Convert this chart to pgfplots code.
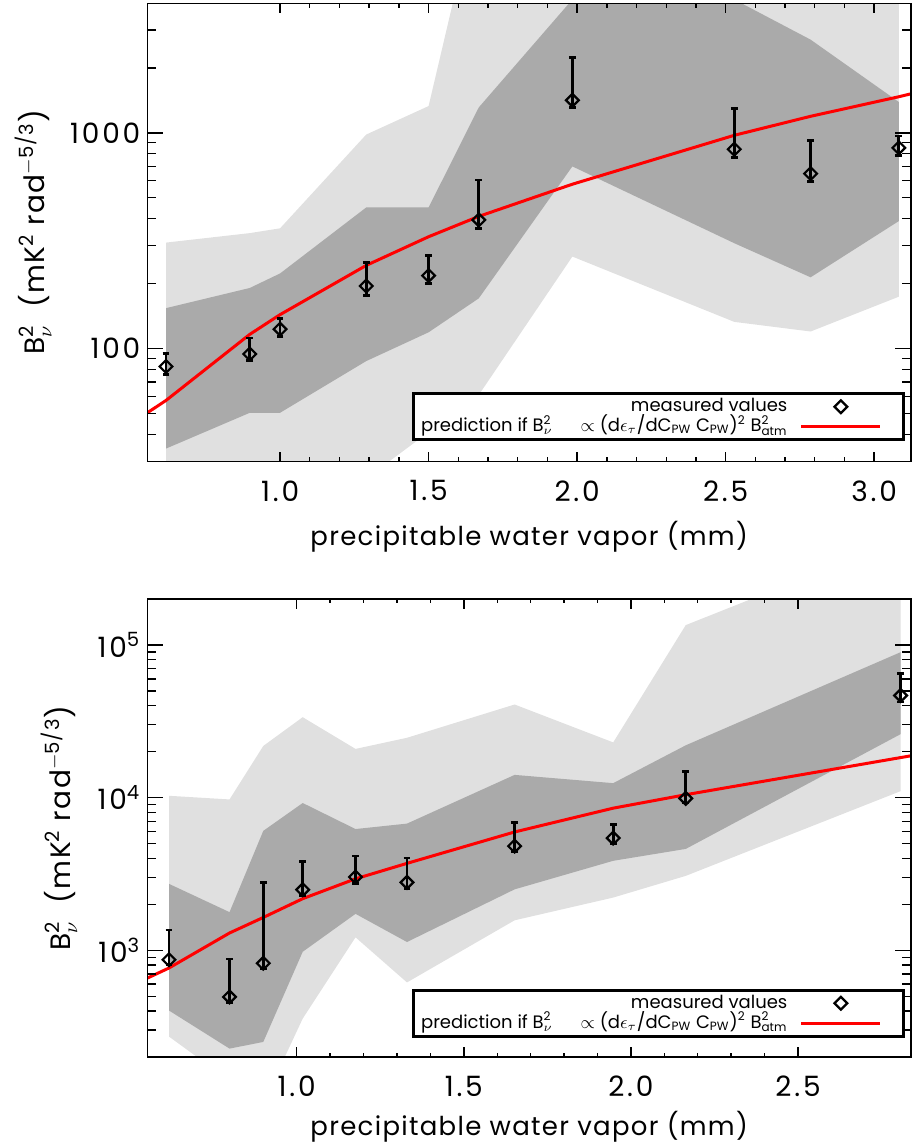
\documentclass[border=0pt]{standalone}
\usepackage{fontspec}
\setmainfont{Poppins}
\newfontfamily\tickfont[LetterSpace=10]{Poppins}
\newfontfamily\labfont[LetterSpace=5]{Poppins}
\usepackage{amsmath}
\usepackage{pgfplots}
\pgfplotsset{compat=1.18}
\usepackage{pgfplotstable}

\definecolor{lightband}{RGB}{224,224,224}
\definecolor{darkband}{RGB}{170,170,170}
\newcommand{\ssub}[2]{\ensuremath{^{\text{#1}}_{\text{#2}}}}

% ---------- top panel ----------
\pgfplotstableread{
x      y     yhi   ylo
0.616  82.6  95.2  75.7
0.898  94.4  112   88
1.000  123   138   114
1.290  195   250   177
1.500  218   270   201
1.669  395   604   359
1.984  1416  2237  1312
2.529  839   1300  769
2.786  647   923   593
3.083  852   966   784
}\topmeas
% outer (light) band: upper edge, then lower edge backwards
\pgfplotstableread{
x      y
0.616  310
0.898  343
1.000  361
1.290  982
1.500  1331
1.669  13000
1.984  20000
2.529  20000
2.786  20000
3.083  20000
3.083  174
2.786  120
2.529  133
1.984  267
1.669  61
1.500  41
1.290  25
1.000  13
0.898  13
0.616  15
}\toplight
% inner (dark) band
\pgfplotstableread{
x      y
0.616  154
0.898  191
1.000  223
1.290  451
1.500  451
1.669  1312
1.984  4150
2.529  4150
2.786  2704
3.083  1390
3.083  390
2.786  214
2.529  308
1.984  699
1.669  171
1.500  119
1.290  87.5
1.000  50.4
0.898  50.4
0.616  34.4
}\topdark
\pgfplotstableread{
x      y
0.553  50.4
0.616  57.5
0.898  116.4
1.000  143.7
1.290  243
1.500  330
1.669  410
1.984  578
2.529  974
2.786  1193
3.083  1470
3.124  1517
}\topmodel

% ---------- bottom panel ----------
\pgfplotstableread{
x      y      yhi    ylo
0.618  867    1358   809
0.799  495    878    457
0.900  822    2786   754
1.018  2495   3795   2275
1.176  3020   4140   2754
1.330  2786   4027   2537
1.652  4817   6837   4446
1.947  5433   6683   5011
2.164  9886   14870  9228
2.807  46670  64700  42300
}\botmeas
\pgfplotstableread{
x      y
0.618  10280
0.799  9730
0.900  21800
1.018  33650
1.176  20850
1.330  24660
1.652  40740
1.947  23000
2.164  134900
2.807  490000
2.807  11030
2.164  3072
1.947  2215
1.652  1572
1.330  616
1.176  1216
1.018  357
0.900  100
0.799  140
0.618  272
}\botlight
\pgfplotstableread{
x      y
0.618  2723
0.799  1778
0.900  6057
1.018  9220
1.176  6226
1.330  6758
1.652  14090
1.947  12440
2.164  22010
2.807  89700
2.807  26060
2.164  4613
1.947  3857
1.652  2507
1.330  1133
1.176  1733
1.018  978
0.900  251
0.799  227
0.618  403
}\botdark
\pgfplotstableread{
x      y
0.553  657
0.618  766
0.799  1298
0.900  1641
1.018  2178
1.176  2939
1.330  3711
1.652  5957
1.947  8531
2.164  10450
2.807  18300
2.838  18800
}\botmodel

\pgfplotsset{
  mypanel/.style={
    scale only axis, width=381.85pt, height=229pt,
    xmin=0.553,
    axis on top,
    axis line style={line width=0.7pt, black},
    tick style={line width=0.7pt, black},
    major tick length=6pt, minor tick length=3pt,
    xtick style={/pgfplots/major tick length=4.8pt, /pgfplots/minor tick length=2.2pt},
    ytick style={/pgfplots/major tick length=8pt, /pgfplots/minor tick length=4.3pt},
    minor x tick num=4,
    tick label style={font=\fontsize{14}{16}\tickfont},
    xticklabel style={yshift=-6pt},
    xlabel style={font=\fontsize{13}{15}\labfont},
    ylabel style={font=\fontsize{14}{16}\labfont},
    legend style={font=\fontsize{9}{11}\selectfont, draw=black, line width=1.5pt,
      fill=white, anchor=south east, inner xsep=3pt, inner ysep=1.5pt, row sep=0pt,
      nodes={inner sep=1pt, text height=6.5pt, text depth=1.5pt}},
    legend cell align=right, legend plot pos=right,
  },
  mydiamleg/.style={legend image code/.code={\path[draw=none] (-6pt,0pt) -- (48pt,0pt);
    \draw[##1] plot coordinates {(19.75pt,0pt)};}},
  mylineleg/.style={legend image code/.code={\path[draw=none] (-6pt,0pt) -- (48pt,0pt);
    \draw[##1] (0pt,0pt) -- (39.5pt,0pt);}},
}

\begin{document}
\begin{tikzpicture}
\path[use as bounding box] (0,0) rectangle (456pt,-573pt);

\begin{axis}[mypanel, ymode=log,
  at={(73.65pt,-230.7pt)}, anchor=south west,
  xmax=3.124, ymin=30, ymax=3981,
  xtick={1,1.5,2,2.5,3}, xticklabels={1.0,1.5,2.0,2.5,3.0},
  ytick={100,1000}, yticklabels={100,1000},
  minor ytick={40,50,60,70,80,90,200,300,400,500,600,700,800,900,2000,3000},
  xlabel={precipitable water vapor (mm)},
  ylabel={B\ssub{2}{$\nu$}\ \ (mK\textsuperscript{2} rad\textsuperscript{$-$5/3})},
  xlabel style={at={(axis description cs:0.5,-0.164)}, anchor=center},
  ylabel style={at={(axis description cs:-0.149,0.5)}, anchor=center},
  legend style={at={(rel axis cs:0.992,0.044)}},
]
\addplot[fill=lightband, draw=none, forget plot] table[x=x, y=y] {\toplight} -- cycle;
\addplot[fill=darkband, draw=none, forget plot] table[x=x, y=y] {\topdark} -- cycle;
\addplot[red, line width=1.5pt, no marks, forget plot] table[x=x, y=y] {\topmodel};
\addplot[only marks, mark=square, black, mark size=2.25pt,
  mark options={rotate=45, line width=1.1pt, fill=none}, mydiamleg,
  error bars/.cd, y dir=both, y explicit, error mark=-,
  error bar style={line width=1.4pt, black},
  error mark options={rotate=90, line width=1.4pt, black, mark size=1.7pt}]
  table[x=x, y=y, y error plus expr=\thisrow{yhi}-\thisrow{y},
  y error minus expr=\thisrow{y}-\thisrow{ylo}] {\topmeas};
\addlegendentry{measured values}
\addlegendimage{red, line width=1.5pt, no marks, mylineleg}
\addlegendentry{prediction if B\ssub{2}{$\nu$}\quad\ \ $\propto$ (d$\epsilon$\textsubscript{$\tau$}/dC\textsubscript{PW} C\textsubscript{PW})\textsuperscript{2} B\ssub{2}{atm}}
\end{axis}

\begin{axis}[mypanel, ymode=log,
  at={(73.65pt,-528.5pt)}, anchor=south west,
  xmax=2.838, ymin=200, ymax=200000,
  xtick={1,1.5,2,2.5}, xticklabels={1.0,1.5,2.0,2.5},
  ytick={1000,10000,100000},
  yticklabels={10\textsuperscript{3},10\textsuperscript{4},10\textsuperscript{5}},
  minor ytick={300,400,500,600,700,800,900,2000,3000,4000,5000,6000,7000,8000,9000,20000,30000,40000,50000,60000,70000,80000,90000},
  xlabel={precipitable water vapor (mm)},
  ylabel={B\ssub{2}{$\nu$}\ \ (mK\textsuperscript{2} rad\textsuperscript{$-$5/3})},
  xlabel style={at={(axis description cs:0.5,-0.153)}, anchor=center},
  ylabel style={at={(axis description cs:-0.115,0.5)}, anchor=center},
  legend style={at={(rel axis cs:0.992,0.042)}},
]
\addplot[fill=lightband, draw=none, forget plot] table[x=x, y=y] {\botlight} -- cycle;
\addplot[fill=darkband, draw=none, forget plot] table[x=x, y=y] {\botdark} -- cycle;
\addplot[red, line width=1.5pt, no marks, forget plot] table[x=x, y=y] {\botmodel};
\addplot[only marks, mark=square, black, mark size=2.25pt,
  mark options={rotate=45, line width=1.1pt, fill=none}, mydiamleg,
  error bars/.cd, y dir=both, y explicit, error mark=-,
  error bar style={line width=1.4pt, black},
  error mark options={rotate=90, line width=1.4pt, black, mark size=1.7pt}]
  table[x=x, y=y, y error plus expr=\thisrow{yhi}-\thisrow{y},
  y error minus expr=\thisrow{y}-\thisrow{ylo}] {\botmeas};
\addlegendentry{measured values}
\addlegendimage{red, line width=1.5pt, no marks, mylineleg}
\addlegendentry{prediction if B\ssub{2}{$\nu$}\quad\ \ $\propto$ (d$\epsilon$\textsubscript{$\tau$}/dC\textsubscript{PW} C\textsubscript{PW})\textsuperscript{2} B\ssub{2}{atm}}
\end{axis}
\end{tikzpicture}
\end{document}
